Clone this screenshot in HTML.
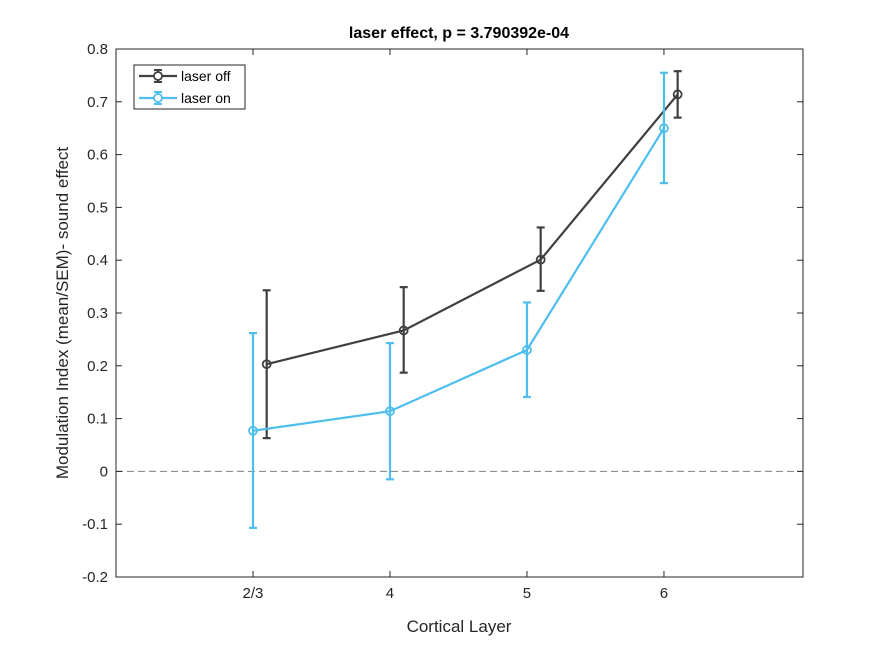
<!DOCTYPE html>
<html><head><meta charset="utf-8"><style>
body{margin:0;background:#fff;}
svg text{font-family:"Liberation Sans",Arial,sans-serif;}
</style></head><body>
<svg width="887" height="650" xmlns="http://www.w3.org/2000/svg">
<rect width="887" height="650" fill="#fff"/>
<g id="plot"></g>
</svg>
<script>
const categories=["2/3","4","5","6"];
const offMean=[0.203,0.267,0.401,0.714];
const offLow=[0.063,0.187,0.342,0.670];
const offHigh=[0.343,0.349,0.462,0.758];
const onMean=[0.077,0.114,0.230,0.650];
const onLow=[-0.107,-0.015,0.141,0.546];
const onHigh=[0.262,0.243,0.320,0.755];
const yTicks=[-0.2,-0.1,0,0.1,0.2,0.3,0.4,0.5,0.6,0.7,0.8];
const yTickLabels=["-0.2","-0.1","0","0.1","0.2","0.3","0.4","0.5","0.6","0.7","0.8"];

const L=116,R=803,T=49,B=577;
const xmin=1,xmax=6.015,ymin=-0.2,ymax=0.8;
const xs=v=>L+(v-xmin)/(xmax-xmin)*(R-L);
const ys=v=>B-(v-ymin)/(ymax-ymin)*(B-T);
const g=document.getElementById('plot');
const NS="http://www.w3.org/2000/svg";
function mk(tag,attrs,parent){const e=document.createElementNS(NS,tag);for(const k in attrs)e.setAttribute(k,attrs[k]);(parent||g).appendChild(e);return e;}

// axes box
let ax=mk('rect',{x:L,y:T,width:R-L,height:B-T,fill:'none',stroke:'#262626','stroke-width':1});


// zero line
let z=mk('line',{x1:L,x2:R,y1:ys(0),y2:ys(0),stroke:'#808080','stroke-dasharray':'7,4','stroke-width':1});


// y ticks
yTicks.forEach((v,i)=>{
  mk('line',{x1:L,x2:L+6,y1:ys(v),y2:ys(v),stroke:'#262626'});
  mk('line',{x1:R,x2:R-6,y1:ys(v),y2:ys(v),stroke:'#262626'});
  let t=mk('text',{x:L-8,y:ys(v)+5,'text-anchor':'end','font-size':15,fill:'#262626'});
  t.textContent=yTickLabels[i];
  
  
});
categories.forEach((c,i)=>{
  const x=xs(i+2);
  mk('line',{x1:x,x2:x,y1:B,y2:B-6,stroke:'#262626'});
  mk('line',{x1:x,x2:x,y1:T,y2:T+6,stroke:'#262626'});
  let t=mk('text',{x:x,y:B+21,'text-anchor':'middle','font-size':15,fill:'#262626'});
  t.textContent=c;
  
  
});
function series(mean,lo,hi,off,color,name){
  const sg=mk('g',{});
  
  
  mk('polyline',{points:mean.map((v,i)=>xs(i+2+off)+','+ys(v)).join(' '),fill:'none',stroke:color,'stroke-width':2.2},sg);
  mean.forEach((v,i)=>{
    const x=xs(i+2+off);
    mk('line',{x1:x,x2:x,y1:ys(lo[i]),y2:ys(hi[i]),stroke:color,'stroke-width':2.2},sg);
    mk('line',{x1:x-4,x2:x+4,y1:ys(lo[i]),y2:ys(lo[i]),stroke:color,'stroke-width':2.2},sg);
    mk('line',{x1:x-4,x2:x+4,y1:ys(hi[i]),y2:ys(hi[i]),stroke:color,'stroke-width':2.2},sg);
    const c=mk('circle',{cx:x,cy:ys(v),r:4,fill:'none',stroke:color,'stroke-width':1.8},sg);
    
    
  });
}
series(offMean,offLow,offHigh,0.1,'#404040','laser-off-series');
series(onMean,onLow,onHigh,0,'#4DBEEE','laser-on-series');
// legend
const lg=mk('g',{});


mk('rect',{x:134,y:65,width:111,height:44,fill:'#fff',stroke:'#262626','stroke-width':1},lg);
[['laser off','#404040',76],['laser on','#4DBEEE',98]].forEach(([lab,col,y])=>{
  mk('line',{x1:139,x2:177,y1:y,y2:y,stroke:col,'stroke-width':2.2},lg);
  mk('line',{x1:158,x2:158,y1:y-6,y2:y+6,stroke:col,'stroke-width':2},lg);
  mk('line',{x1:154,x2:162,y1:y-6,y2:y-6,stroke:col,'stroke-width':2},lg);
  mk('line',{x1:154,x2:162,y1:y+6,y2:y+6,stroke:col,'stroke-width':2},lg);
  mk('circle',{cx:158,cy:y,r:4,fill:'#fff',stroke:col,'stroke-width':1.8},lg);
  const t=mk('text',{x:181,y:y+5,'font-size':14,fill:'#000'},lg);t.textContent=lab;
  
  
});
// titles
let tt=mk('text',{x:459,y:38,'text-anchor':'middle','font-size':16,'font-weight':'bold',fill:'#000'});
tt.textContent='laser effect, p = 3.790392e-04';


let xt=mk('text',{x:459,y:632,'text-anchor':'middle','font-size':17,fill:'#262626'});
xt.textContent='Cortical Layer';


let yt=mk('text',{x:0,y:0,'text-anchor':'middle','font-size':17,fill:'#262626',transform:'translate(68,313) rotate(-90)'});
yt.textContent='Modulation Index (mean/SEM)- sound effect';


</script>
</body></html>
